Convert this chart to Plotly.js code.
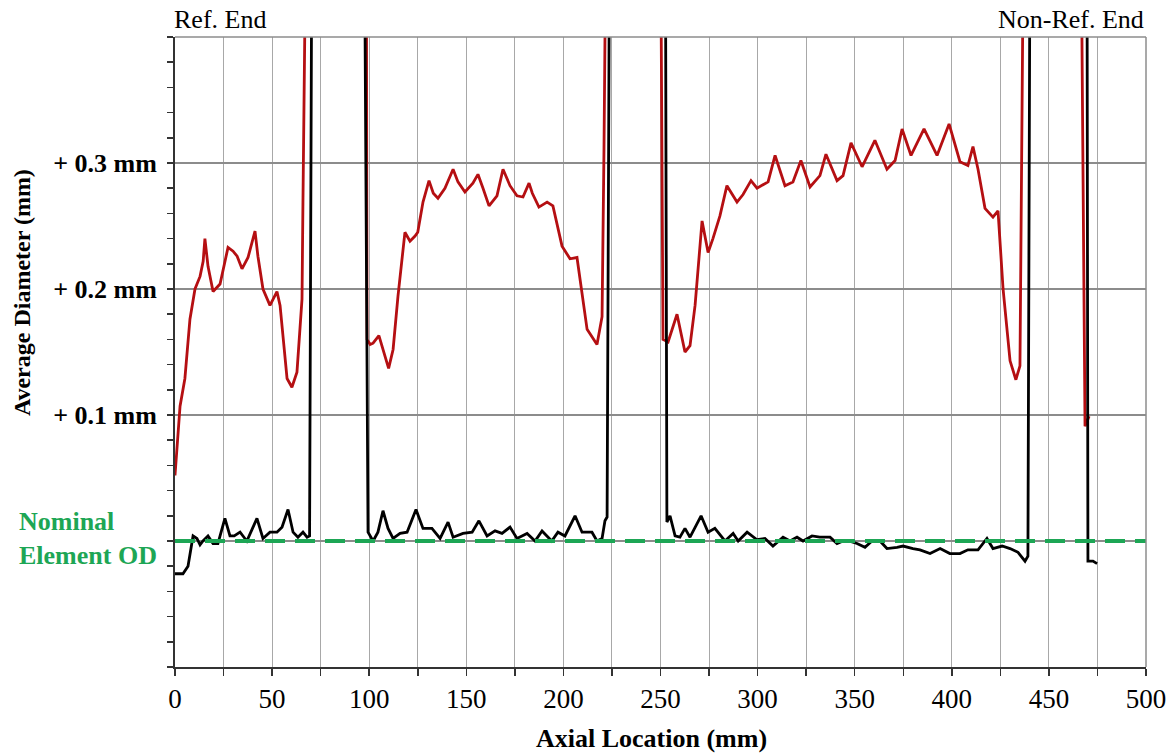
<!DOCTYPE html>
<html>
<head>
<meta charset="utf-8">
<script src="https://cdn.plot.ly/plotly-3.0.1.min.js"></script>
<style>html,body{margin:0;padding:0;background:#fff;}#chart{width:1173px;height:754px;}</style>
</head>
<body>
<div id="chart"></div>
<script>
// Red trace (axial location mm, average diameter deviation mm); 0.5 = off-scale spike
const redX = [0,1.5,2.6,5.1,7.7,10.3,12.9,14.5,15.4,17,19.6,23.2,27.3,29.9,32,34.5,37.6,41.2,42.7,45.3,48.9,52.5,54.1,57.7,60.2,62.8,65.4,65.9,67.5,98.5,98.9,100.5,102,105,110,112.3,114.8,118.4,121,123.6,125,127.7,130.8,133,135.4,139,143.2,145.7,149.3,153.4,156,158.6,161.7,165.8,168.9,172.5,176.1,179.2,182.3,184,187.4,191.6,194.6,199.3,203.4,207,209.6,212.2,217.3,219.9,220.9,222,250,251.3,253.9,258.5,262.6,265.2,267.8,271.4,274.5,277,280.6,284.2,289.4,292.5,296.6,299.7,305.4,309,314.1,318.2,322.3,327,332.1,335.2,340.9,344,348.1,353.8,360.4,366.6,370.8,374.4,379,385.7,392.4,398.6,404.2,408.3,410.9,413.5,417.1,421.2,423.8,426.4,430,433,435.1,435.6,436.1,437,466.5,468.6,470.7];
const redY = [0.052,0.085,0.107,0.129,0.176,0.2,0.21,0.222,0.24,0.218,0.198,0.204,0.233,0.23,0.226,0.216,0.225,0.246,0.226,0.2,0.187,0.198,0.187,0.129,0.122,0.134,0.192,0.271,0.5,0.5,0.160,0.156,0.157,0.163,0.137,0.152,0.194,0.245,0.238,0.242,0.245,0.269,0.286,0.276,0.272,0.28,0.295,0.285,0.277,0.284,0.291,0.28,0.266,0.274,0.295,0.282,0.274,0.273,0.284,0.276,0.265,0.269,0.266,0.234,0.224,0.225,0.198,0.168,0.156,0.178,0.311,0.5,0.5,0.160,0.158,0.180,0.150,0.155,0.187,0.254,0.229,0.24,0.258,0.282,0.269,0.275,0.286,0.28,0.285,0.306,0.282,0.285,0.302,0.281,0.29,0.307,0.286,0.29,0.316,0.297,0.318,0.295,0.302,0.327,0.306,0.327,0.306,0.331,0.301,0.298,0.313,0.295,0.264,0.257,0.262,0.2,0.143,0.128,0.139,0.232,0.311,0.5,0.5,0.091,0.099];

// Black trace
const blackX = [0,4.1,6.7,9.3,11.3,12.9,14.4,17,19.6,22.1,25.7,28.3,30.5,33.5,36,37,42.2,45.3,48.9,52.5,55.1,58.2,60.8,63.3,65.9,68,69.3,70.5,97.5,99.4,102,104.5,107.1,109.7,112.3,115.9,119.5,124.1,127.7,132.3,136.5,140.6,143.2,148.3,153,156.5,160.7,164.8,168.4,172.5,176.1,181.3,185.4,189,191.5,194,197.2,200.8,206,209.6,214.7,217.3,219.9,221.4,222.5,223.8,252.5,253.3,254.9,257.5,260,262.6,265.2,270.9,274.5,278,283.2,287.4,290,294.6,299.7,303.8,307.9,313.1,316.7,320.3,323.4,328,332,337.3,340.9,344,347,351.2,355.3,358.9,363,366.6,371.8,374.9,380,383.6,388.8,394,399,404.2,408.3,413.5,418.1,421.2,425.9,430,434.1,437.7,439.2,440.3,469.6,470.1,472.7,474.8];
const blackY = [-0.026,-0.026,-0.02,0.004,0.002,-0.003,0,0.004,-0.002,-0.002,0.018,0.004,0.004,0.007,0.002,0,0.018,0.002,0.007,0.007,0.011,0.025,0.007,0.003,0.007,0.003,0.004,0.5,0.5,0.007,0,0.007,0.024,0.01,0.002,0.006,0.007,0.025,0.01,0.01,0.002,0.015,0.003,0.006,0.007,0.016,0.004,0.008,0.006,0.011,0.002,0.006,0,0.008,0.004,0,0.007,0.004,0.02,0.007,0.007,0,0.002,0.016,0.019,0.5,0.5,0.015,0.02,0.004,0.003,0.01,0.003,0.02,0.007,0.01,0,0.006,0,0.007,0.001,0.002,-0.004,0.003,0,0.003,0,0.004,0.003,0.003,-0.002,0,0,-0.002,-0.005,0,0,-0.006,-0.005,-0.004,-0.006,-0.007,-0.01,-0.006,-0.01,-0.01,-0.007,-0.007,0.002,-0.006,-0.004,-0.006,-0.009,-0.016,-0.012,0.5,0.5,-0.016,-0.016,-0.018];

// Nominal element OD reference line
const nominalX = [0, 500];
const nominalY = [0, 0];

// Axis labels
const yTickVals = [0, 0.1, 0.2, 0.3, 0.4];
const yTickText = ['', '+ 0.1 mm', '+ 0.2 mm', '+ 0.3 mm', ''];

const serif = 'Liberation Serif, Times New Roman, serif';

const traces = [
  {x: redX, y: redY, mode: 'lines', line: {color: '#B50F12', width: 2.8}, hoverinfo: 'skip'},
  {x: blackX, y: blackY, mode: 'lines', line: {color: '#000000', width: 2.8}, hoverinfo: 'skip'},
  {x: nominalX, y: nominalY, mode: 'lines', line: {color: '#1DA655', width: 4, dash: '20px,10px'}, hoverinfo: 'skip'}
];

const layout = {
  width: 1173, height: 754,
  margin: {l: 175, r: 27, t: 37, b: 87},
  paper_bgcolor: '#fff', plot_bgcolor: '#fff',
  showlegend: false,
  font: {family: serif, color: '#000'},
  xaxis: {
    range: [0, 500], tickmode: 'linear', tick0: 0, dtick: 50,
    showgrid: true, gridcolor: '#a8a8a8', gridwidth: 1,
    showline: true, linecolor: '#333', linewidth: 2,
    ticks: 'outside', ticklen: 7, tickcolor: '#333', tickwidth: 1.5,
    minor: {tick0: 0, dtick: 25, ticks: 'outside', ticklen: 7, tickcolor: '#333', tickwidth: 1.5, showgrid: true, gridcolor: '#a8a8a8', gridwidth: 1},
    tickfont: {family: serif, size: 27, color: '#000'},
    zeroline: false, fixedrange: true
  },
  yaxis: {
    range: [-0.1, 0.4], tickmode: 'array', tickvals: yTickVals, ticktext: yTickText,
    showgrid: true, gridcolor: '#8c8c8c', gridwidth: 1.5,
    showline: true, linecolor: '#333', linewidth: 2,
    ticks: 'outside', ticklen: 6, tickcolor: '#333', tickwidth: 1.5,
    minor: {tickmode: 'linear', tick0: 0, dtick: 0.02, ticks: 'outside', ticklen: 6, tickcolor: '#333', tickwidth: 1.5, showgrid: false},
    tickfont: {family: serif, size: 26, color: '#000', weight: 'bold'},
    ticklabelstandoff: 5,
    zeroline: false, fixedrange: true
  },
  shapes: [
    {type: 'line', xref: 'paper', yref: 'paper', x0: 0, x1: 1, y0: 1, y1: 1, line: {color: '#8c8c8c', width: 1.5}},
    {type: 'line', xref: 'paper', yref: 'paper', x0: 1, x1: 1, y0: 0, y1: 1, line: {color: '#8c8c8c', width: 1.5}}
  ],
  annotations: [
    {text: '<b>Axial Location (mm)</b>', xref: 'paper', yref: 'paper', x: 0.491, y: -0.1127, xanchor: 'center', yanchor: 'middle', showarrow: false, font: {family: serif, size: 26, color: '#000'}},
    {text: '<b>Average Diameter (mm)</b>', xref: 'paper', yref: 'paper', x: -0.1576, y: 0.595, xanchor: 'center', yanchor: 'middle', textangle: -90, showarrow: false, font: {family: serif, size: 24, color: '#000'}},
    {text: '<b>Nominal<br>Element OD</b>', xref: 'paper', yref: 'y', x: -0.1625, y: 0, yshift: 3, xanchor: 'left', yanchor: 'middle', align: 'left', showarrow: false, font: {family: serif, size: 26, color: '#1DA655'}},
    {text: 'Ref. End', xref: 'paper', yref: 'paper', x: -0.003, y: 1, xanchor: 'left', yanchor: 'bottom', yshift: 1, showarrow: false, font: {family: serif, size: 26, color: '#000'}},
    {text: 'Non-Ref. End', xref: 'paper', yref: 'paper', x: 1, y: 1, xanchor: 'right', yanchor: 'bottom', yshift: 1, showarrow: false, font: {family: serif, size: 26, color: '#000'}}
  ]
};

Plotly.newPlot('chart', traces, layout, {displayModeBar: false, staticPlot: true});
</script>
</body>
</html>
